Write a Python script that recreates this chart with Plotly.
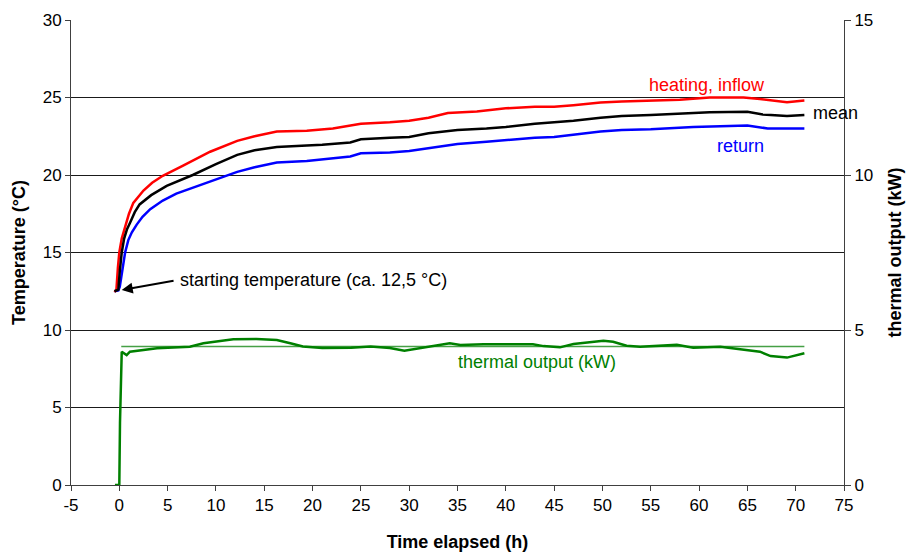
import plotly.graph_objects as go

# Supply temperature (heating, inflow), hours vs °C
t_inflow = [-0.5, -0.3, -0.15, 0.0, 0.25, 0.6, 1.0, 1.45, 2.5, 3.4, 4.5, 6.6, 9.4, 12.2, 14.0,
            16.3, 19.4, 22.1, 23.9, 25.0, 28.0, 30.0, 32.0, 34.0, 37.0, 40.0, 43.0, 45.0, 47.0,
            49.8, 52.0, 55.0, 58.0, 61.1, 64.6, 66.3, 69.1, 70.9]
T_inflow = [12.45, 12.6, 14.0, 15.0, 15.9, 16.7, 17.5, 18.2, 19.0, 19.5, 19.95, 20.6, 21.5, 22.2,
            22.5, 22.8, 22.85, 23.0, 23.2, 23.3, 23.4, 23.5, 23.7, 24.0, 24.1, 24.3, 24.4, 24.4,
            24.5, 24.67, 24.75, 24.8, 24.85, 25.0, 25.0, 24.9, 24.7, 24.8]

# Mean of inflow and return
t_mean = [-0.5, -0.1, 0.05, 0.25, 0.5, 0.8, 1.1, 1.6, 2.1, 3.3, 4.9, 7.6, 10.0, 12.2, 14.0,
          16.3, 19.4, 21.0, 23.9, 25.0, 28.0, 30.0, 32.0, 35.0, 38.0, 40.0, 43.0, 45.0, 47.0,
          49.8, 52.0, 55.0, 58.0, 61.1, 65.0, 66.6, 69.1, 70.9]
T_mean = [12.5, 12.6, 13.8, 15.0, 15.9, 16.5, 16.9, 17.6, 18.1, 18.7, 19.3, 20.0, 20.7, 21.3,
          21.6, 21.8, 21.9, 21.95, 22.1, 22.3, 22.4, 22.45, 22.7, 22.9, 23.0, 23.1, 23.3, 23.4,
          23.5, 23.7, 23.8, 23.87, 23.95, 24.05, 24.08, 23.9, 23.8, 23.87]

# Return temperature
t_return = [-0.5, -0.1, 0.05, 0.3, 0.6, 0.93, 1.3, 1.8, 2.4, 3.2, 4.5, 5.9, 9.1, 12.2, 14.0,
            16.3, 19.4, 21.0, 23.9, 25.0, 28.0, 30.0, 33.0, 35.0, 38.0, 40.0, 43.0, 45.0, 47.0,
            49.8, 52.0, 55.0, 59.4, 65.0, 67.1, 70.9]
T_return = [12.5, 12.55, 12.8, 13.9, 15.0, 15.8, 16.3, 16.8, 17.3, 17.8, 18.35, 18.8, 19.5, 20.2,
            20.5, 20.8, 20.9, 21.0, 21.2, 21.4, 21.45, 21.55, 21.8, 22.0, 22.15, 22.25, 22.4,
            22.45, 22.6, 22.8, 22.9, 22.95, 23.1, 23.2, 23.0, 23.0]

# Thermal output in kW (right axis)
t_power = [-0.45, 0.0, 0.07, 0.25, 0.76, 1.1, 3.9, 7.3, 8.7, 11.8, 14.2, 16.3, 17.7, 19.0, 21.0,
           24.0, 26.0, 28.0, 29.5, 31.1, 34.2, 35.3, 37.7, 42.8, 43.9, 45.6, 47.0, 50.1, 51.1,
           52.5, 53.9, 57.7, 59.4, 62.2, 64.6, 66.3, 67.4, 69.1, 70.9]
P_power = [0.0, 0.0, 2.0, 4.3, 4.19, 4.3, 4.41, 4.46, 4.57, 4.70, 4.71, 4.68, 4.57, 4.47, 4.42,
           4.43, 4.47, 4.42, 4.33, 4.41, 4.57, 4.52, 4.54, 4.54, 4.48, 4.44, 4.55, 4.65, 4.62,
           4.49, 4.46, 4.52, 4.43, 4.46, 4.38, 4.30, 4.16, 4.11, 4.25]

# Average thermal output over the run
t_power_avg = [0.2, 70.9]
P_power_avg = [4.47, 4.47]

x_ticks = list(range(-5, 80, 5))
x_tick_text = [str(v) for v in x_ticks]
y_ticks = list(range(0, 35, 5))
y2_ticks = [0, 5, 10, 15]

FONT = "Liberation Sans, Arial, sans-serif"

fig = go.Figure()
fig.add_trace(go.Scatter(x=t_power_avg, y=P_power_avg, yaxis="y2", mode="lines",
                         line=dict(color="rgb(70,160,70)", width=1.5), showlegend=False))
fig.add_trace(go.Scatter(x=t_power, y=P_power, yaxis="y2", mode="lines",
                         line=dict(color="rgb(0,128,0)", width=2.5), showlegend=False))
fig.add_trace(go.Scatter(x=t_return, y=T_return, mode="lines",
                         line=dict(color="rgb(0,0,255)", width=2.5), showlegend=False))
fig.add_trace(go.Scatter(x=t_inflow, y=T_inflow, mode="lines",
                         line=dict(color="rgb(255,0,0)", width=2.5), showlegend=False))
fig.add_trace(go.Scatter(x=t_mean, y=T_mean, mode="lines",
                         line=dict(color="black", width=2.5), showlegend=False))

ann_font = dict(family=FONT, size=18)
annotations = [
    dict(x=60.8, y=25.8, text="heating, inflow", showarrow=False, xanchor="center",
         yanchor="middle", font=dict(ann_font, color="rgb(255,0,0)")),
    dict(x=71.6, y=23.98, text="mean", showarrow=False, xanchor="left",
         yanchor="middle", font=dict(ann_font, color="black")),
    dict(x=64.25, y=21.87, text="return", showarrow=False, xanchor="center",
         yanchor="middle", font=dict(ann_font, color="rgb(0,0,255)")),
    dict(x=43.2, y=7.95, text="thermal output (kW)", showarrow=False, xanchor="center",
         yanchor="middle", font=dict(ann_font, color="rgb(0,128,0)")),
    dict(x=6.05, y=13.2, text="starting temperature (ca. 12,5 °C)", showarrow=False,
         xanchor="left", yanchor="middle", font=dict(ann_font, color="black")),
    dict(x=0.25, y=12.58, ax=5.77, ay=13.2, axref="x", ayref="y", xref="x", yref="y",
         text="", showarrow=True, arrowhead=2, arrowsize=1.1, arrowwidth=2,
         arrowcolor="black", standoff=0),
]

fig.update_layout(
    width=906, height=552,
    margin=dict(l=71, r=62, t=20, b=67),
    paper_bgcolor="white", plot_bgcolor="white",
    font=dict(family=FONT, size=17, color="black"),
    annotations=annotations,
    xaxis=dict(range=[-5, 75], tickvals=x_ticks, ticktext=x_tick_text, automargin=False,
               showgrid=False, zeroline=False, showline=True, linecolor="#404040",
               linewidth=1, ticks="outside", ticklen=5, tickcolor="#404040",
               tickfont=dict(size=17),
               title=dict(text="<b>Time elapsed (h)</b>", font=dict(size=18), standoff=20)),
    yaxis=dict(range=[0, 30], tickvals=y_ticks, showgrid=True, gridcolor="#1a1a1a",
               gridwidth=1, zeroline=False, showline=True, linecolor="#404040",
               linewidth=1, ticks="outside", ticklen=5, tickcolor="#404040",
               tickfont=dict(size=17), automargin=False,
               title=dict(text="<b>Temperature (°C)</b>", font=dict(size=18), standoff=12)),
    yaxis2=dict(range=[0, 15], tickvals=y2_ticks, overlaying="y", side="right",
                showgrid=False, zeroline=False, showline=True, linecolor="#404040",
                linewidth=1, ticks="outside", ticklen=6, tickcolor="#404040",
                tickfont=dict(size=17), automargin=False,
                title=dict(text="<b>thermal output (kW)</b>", font=dict(size=18), standoff=16)),
)

fig.write_html("out.html")
